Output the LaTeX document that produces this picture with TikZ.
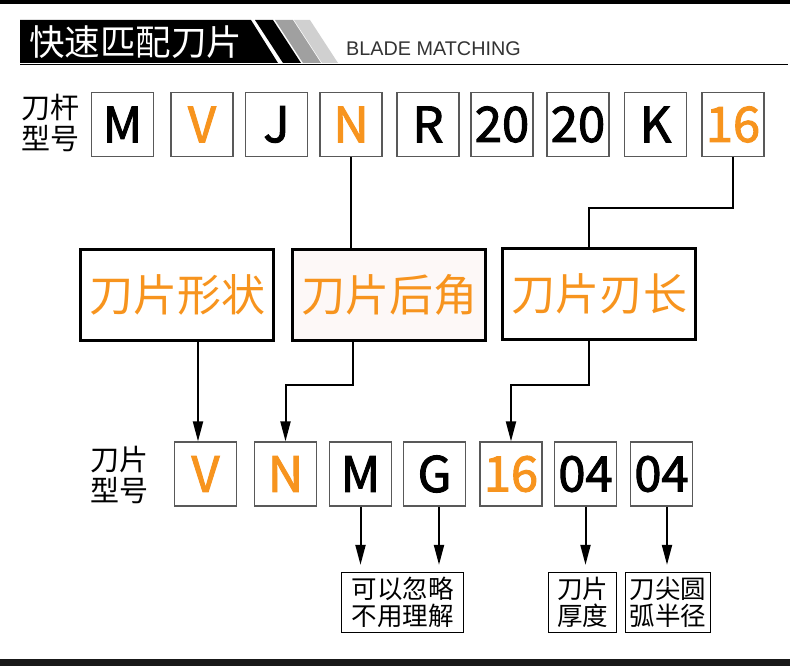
\documentclass[tikz,border=0pt]{standalone}
\usepackage{fontspec}
\setmainfont{Noto Sans CJK SC}
\newfontfamily\latinfont{Liberation Sans}
\newfontfamily\letterfont[FakeBold=2]{Noto Sans CJK SC}
\usetikzlibrary{arrows.meta,calc}
\definecolor{org}{RGB}{247,148,30}
\definecolor{pinkish}{RGB}{253,248,247}
\definecolor{stripegray}{RGB}{160,160,160}
\definecolor{stripelight}{RGB}{208,208,208}
\begin{document}
\begin{tikzpicture}[x=1pt,y=-1pt,
  lbox/.style={draw=black!65,line width=1.2pt,fill=white,minimum width=62pt,minimum height=64pt,inner sep=0pt,font=\letterfont\fontsize{49}{49}\selectfont},
  obox/.style={lbox,text=org},
  mbox/.style={draw=black,line width=2.8pt,minimum width=193pt,minimum height=91pt,inner sep=0pt,text=org,font=\fontsize{44}{44}\selectfont},
  sbox/.style={draw=black,line width=1.3pt,minimum height=60pt,inner sep=0pt,align=center,font=\fontsize{25.5}{27}\selectfont},
  lab/.style={align=center,inner sep=0pt,font=\fontsize{29}{31}\selectfont},
  conn/.style={line width=2pt,black},
  arr/.style={conn,-{Triangle[width=10pt,length=20pt]}}]
\useasboundingbox (0,0) rectangle (790,666);
% bars
\fill[black] (0,0) rectangle (790,4);
\fill[black!90] (0,659) rectangle (790,666);
% header
\fill[black] (20,20) -- (251,20) -- (278,63) -- (20,63) -- cycle;
\fill[black] (255,20) -- (273,20) -- (301,63) -- (283,63) -- cycle;
\fill[stripegray] (275,20) -- (293,20) -- (321,63) -- (303,63) -- cycle;
\fill[stripelight] (294,20) -- (310,20) -- (338,63) -- (322,63) -- cycle;
\draw[line width=1pt] (20,64.5) -- (788,64.5);
\node[anchor=west,text=white,inner sep=0pt,font=\fontsize{35.5}{35.5}\selectfont] (title) at (29,42) {快速匹配刀片};
\node[anchor=base west,inner sep=0pt,text=black!80,font=\latinfont\fontsize{19.8}{19.8}\selectfont] (sub) at (346,55.5) {BLADE MATCHING};
% top row
\node[lab] (lab1) at (50,123) {刀杆\\型号};
\node[lbox] (t1) at (122.5,124.5) {M};
\node[obox] (t2) at (202,124.5) {V};
\node[lbox] (t3) at (276.5,124.5) {J};
\node[obox] (t4) at (351,124.5) {N};
\node[lbox] (t5) at (428,124.5) {R};
\node[lbox] (t6) at (502,124.5) {20};
\node[lbox] (t7) at (578,124.5) {20};
\node[lbox] (t8) at (655.5,124.5) {K};
\node[obox] (t9) at (733,124.5) {16};
% middle boxes
\node[mbox] (b1) at (177,295) {刀片形状};
\node[mbox,fill=pinkish] (b2) at (389,295) {刀片后角};
\node[mbox] (b3) at (599,294) {刀片刃长};
% lower row
\node[lab] (lab2) at (119,475) {刀片\\型号};
\node[obox] (u1) at (205.5,474) {V};
\node[obox] (u2) at (285.5,474) {N};
\node[lbox] (u3) at (360.5,474) {M};
\node[lbox] (u4) at (434.5,474) {G};
\node[obox] (u5) at (511,474) {16};
\node[lbox] (u6) at (585.5,474) {04};
\node[lbox] (u7) at (661.5,474) {04};
% bottom boxes
\node[sbox,minimum width=122pt] (ign) at (402.5,602.5) {可以忽略\\不用理解};
\node[sbox,minimum width=68pt] (thk) at (582.5,602.5) {刀片\\厚度};
\node[sbox,minimum width=85pt] (rad) at (668,602.5) {刀尖圆\\弧半径};
% connectors top -> middle
\draw[conn] (t4.south) -- (t4.south |- b2.north);
\coordinate (k1) at (589,208);
\draw[conn] (t9.south) |- (k1) -- (k1 |- b3.north);
% middle -> lower
\coordinate (a1) at ($(b1.south)+(21,0)$);
\draw[arr] (a1) -- (a1 |- u1.north);
\coordinate (a2) at ($(b2.south)+(-36,0)$);
\draw[arr] (a2) -- ++(0,43) -| (u2.north);
\coordinate (a3) at ($(b3.south)+(-10,0)$);
\draw[arr] (a3) -- ++(0,44) -| (u5.north);
% lower -> bottom
\draw[arr,shorten >=7pt] (u3.south) -- (u3.south |- ign.north);
\coordinate (gq) at ($(u4.south)+(4.5,0)$);
\draw[arr,shorten >=7pt] (gq) -- (gq |- ign.north);
\draw[arr,shorten >=7pt] (u6.south) -- (u6.south |- thk.north);
\coordinate (hq) at ($(u7.south)+(5.5,0)$);
\draw[arr,shorten >=7pt] (hq) -- (hq |- rad.north);
\end{tikzpicture}
\end{document}
